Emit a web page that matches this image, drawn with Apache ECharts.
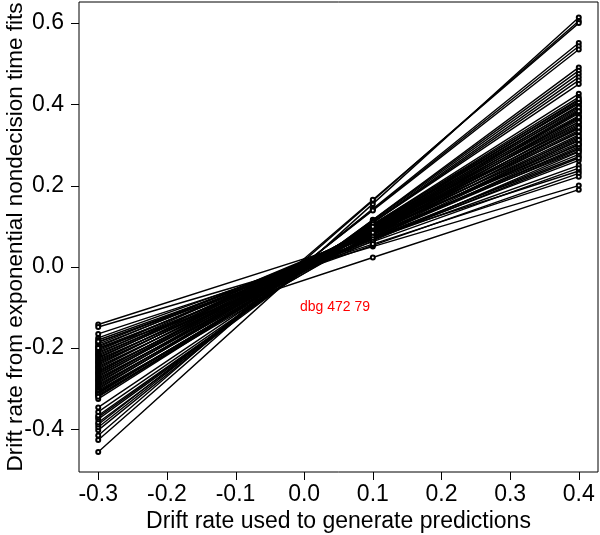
<!DOCTYPE html>
<html>
<head>
<meta charset="utf-8">
<script src="https://cdn.jsdelivr.net/npm/echarts@6/dist/echarts.min.js"></script>
<style>
  html, body { margin: 0; padding: 0; background: #fff; }
  #chart { width: 600px; height: 535px; }
</style>
</head>
<body>
<div id="chart"></div>
<script>
// drift rate used to generate predictions (x positions of the three points)
var genRates = [-0.3, 0.1, 0.4];

// fitted drift rate for each participant at x = -0.3, 0.1 and 0.4
var fitAtLow = [
  -0.456, -0.426, -0.415, -0.402, -0.395, -0.388, -0.383, -0.375, -0.370, -0.366,
  -0.357, -0.346, -0.325, -0.318, -0.312, -0.309,
  -0.186, -0.190, -0.194, -0.197, -0.200, -0.204, -0.207, -0.210, -0.213, -0.216,
  -0.219, -0.222, -0.225, -0.228, -0.231, -0.234, -0.236, -0.239, -0.242, -0.245,
  -0.248, -0.251, -0.254, -0.257, -0.260, -0.262, -0.265, -0.268, -0.271, -0.274,
  -0.277, -0.280, -0.283, -0.286, -0.289, -0.292, -0.295, -0.298, -0.301, -0.304,
  -0.307, -0.311, -0.315, -0.320,
  -0.142, -0.148, -0.175, -0.180, -0.184, -0.200, -0.165
];
var fitAtMid = [
  0.155, 0.163, 0.165, 0.143, 0.141, 0.139, 0.116, 0.115, 0.113, 0.110,
  0.109, 0.109, 0.104, 0.103, 0.098, 0.094,
  0.070, 0.081, 0.072, 0.087, 0.067, 0.079, 0.086, 0.068, 0.090, 0.073,
  0.083, 0.074, 0.092, 0.064, 0.081, 0.094, 0.071, 0.083, 0.095, 0.073,
  0.086, 0.096, 0.075, 0.087, 0.097, 0.078, 0.099, 0.086, 0.101, 0.079,
  0.088, 0.102, 0.090, 0.103, 0.080, 0.091, 0.103, 0.092, 0.105, 0.080,
  0.092, 0.098, 0.084, 0.099,
  0.074, 0.050, 0.068, 0.062, 0.053, 0.023, 0.056
];
var fitAtHigh = [
  0.614, 0.605, 0.600, 0.551, 0.543, 0.535, 0.491, 0.483, 0.475, 0.467,
  0.459, 0.450, 0.426, 0.418, 0.406, 0.397,
  0.262, 0.285, 0.271, 0.300, 0.268, 0.292, 0.305, 0.277, 0.318, 0.289,
  0.310, 0.296, 0.330, 0.283, 0.315, 0.340, 0.302, 0.325, 0.348, 0.312,
  0.336, 0.357, 0.322, 0.345, 0.365, 0.333, 0.372, 0.352, 0.380, 0.343,
  0.362, 0.388, 0.370, 0.395, 0.356, 0.378, 0.402, 0.385, 0.410, 0.368,
  0.392, 0.405, 0.383, 0.413,
  0.236, 0.200, 0.250, 0.243, 0.230, 0.190, 0.222
];

var xTicks = [-0.3, -0.2, -0.1, 0.0, 0.1, 0.2, 0.3, 0.4];
var yTicks = [-0.4, -0.2, 0.0, 0.2, 0.4, 0.6];

var xMin = -0.328, xMax = 0.428;
var yMin = -0.505, yMax = 0.652;
var tickLen = 8;

var chart = echarts.init(document.getElementById('chart'));

var series = [];
for (var i = 0; i < fitAtLow.length; i++) {
    series.push({
        type: 'line',
        data: [
            [genRates[0], fitAtLow[i]],
            [genRates[1], fitAtMid[i]],
            [genRates[2], fitAtHigh[i]]
        ],
        symbol: 'emptyCircle',
        symbolSize: 4,
        itemStyle: { color: '#000', borderWidth: 1 },
        lineStyle: { color: '#000', width: 1.4 },
        silent: true
    });
}

var fontFam = '"Liberation Sans", Arial, sans-serif';

var option = {
    animation: false,
    backgroundColor: '#fff',
    grid: {
        left: 79, right: 2, top: 2, bottom: 63,
        containLabel: false,
        outerBoundsMode: 'none',
        show: true,
        borderColor: '#000',
        borderWidth: 1
    },
    xAxis: {
        type: 'value',
        min: xMin,
        max: xMax,
        name: 'Drift rate used to generate predictions',
        nameLocation: 'middle',
        nameGap: 38,
        nameMoveOverlap: false,
        nameTextStyle: { color: '#000', fontSize: 23, fontFamily: fontFam },
        axisLine: { show: false, onZero: false },
        axisTick: { show: false },
        axisLabel: {
            customValues: xTicks,
            margin: 11,
            color: '#000',
            fontSize: 23,
            fontFamily: fontFam,
            formatter: function (v) { return v.toFixed(1); }
        },
        splitLine: { show: false }
    },
    yAxis: {
        type: 'value',
        min: yMin,
        max: yMax,
        name: 'Drift rate from exponential nondecision time fits',
        nameLocation: 'middle',
        nameGap: 52,
        nameMoveOverlap: false,
        nameTextStyle: { color: '#000', fontSize: 22.5, fontFamily: fontFam },
        axisLine: { show: false, onZero: false },
        axisTick: { show: false },
        axisLabel: {
            customValues: yTicks,
            margin: 15,
            color: '#000',
            fontSize: 23,
            fontFamily: fontFam,
            formatter: function (v) { return v.toFixed(1); }
        },
        splitLine: { show: false }
    },
    series: series
};

chart.setOption(option);

// tick marks outside the box, placed through the axes' own scales
var bottomPx = chart.convertToPixel({ yAxisIndex: 0 }, yMin);
var leftPx = chart.convertToPixel({ xAxisIndex: 0 }, xMin);
var tickEls = [];
xTicks.forEach(function (v) {
    var px = Math.round(chart.convertToPixel({ xAxisIndex: 0 }, v)) + 0.5;
    tickEls.push({
        type: 'rect',
        z: 100,
        shape: { x: px - 0.5, y: bottomPx, width: 1, height: tickLen },
        style: { fill: '#000' },
        silent: true
    });
});
yTicks.forEach(function (v) {
    var py = Math.round(chart.convertToPixel({ yAxisIndex: 0 }, v));
    tickEls.push({
        type: 'rect',
        z: 100,
        shape: { x: leftPx - tickLen, y: py, width: tickLen, height: 1 },
        style: { fill: '#000' },
        silent: true
    });
});
tickEls.push({
    type: 'text', z: 100, left: 300, top: 300,
    style: { text: 'dbg ' + bottomPx + ' ' + leftPx, fill: 'red', fontSize: 14 }
});
chart.setOption({ graphic: { elements: tickEls } });
</script>
</body>
</html>
